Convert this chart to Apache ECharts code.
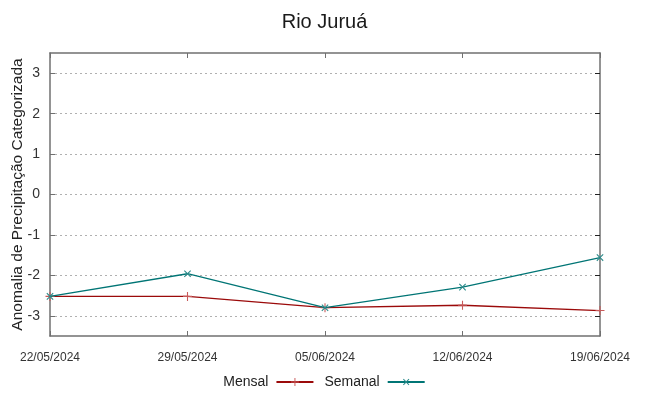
<!DOCTYPE html>
<html>
<head>
<meta charset="utf-8">
<script src="https://cdn.jsdelivr.net/npm/echarts@6/dist/echarts.min.js"></script>
<style>html,body{margin:0;padding:0;background:#fff}#c{width:649px;height:396px}</style>
</head>
<body>
<div id="c"></div>
<script>
const categories = ['22/05/2024', '29/05/2024', '05/06/2024', '12/06/2024', '19/06/2024'];
const mensal = [-2.52, -2.52, -2.80, -2.74, -2.87];
const semanal = [-2.52, -1.96, -2.80, -2.29, -1.56];
const yTicks = [-3, -2, -1, 0, 1, 2, 3];

const plusPath = 'path://M4.4,0H5.6V4.4H10V5.6H5.6V10H4.4V5.6H0V4.4H4.4Z';
const font = 'Liberation Sans, Arial, sans-serif';
const axisGray = '#707070';

const chart = echarts.init(document.getElementById('c'), null, {renderer: 'canvas'});
chart.setOption({
  animation: false,
  backgroundColor: '#fff',
  title: {
    text: 'Rio Juruá', left: 'center', top: 7,
    textStyle: {fontFamily: font, fontSize: 20, fontWeight: 'normal', color: '#1a1a1a'}
  },
  legend: {
    bottom: 2, left: 'center', align: 'right', itemGap: 10,
    itemWidth: 37, itemHeight: 10,
    textStyle: {fontFamily: font, fontSize: 14, color: '#222', padding: [0, 3, 0, 0]},
    data: ['Mensal', 'Semanal']
  },
  grid: {left: 50, right: 49, top: 53, bottom: 60, containLabel: false, outerBoundsMode: 'none'},
  xAxis: [{
    type: 'category', data: categories, boundaryGap: false,
    axisLine: {onZero: false, lineStyle: {color: axisGray, width: 1.5}},
    axisTick: {inside: true, length: 5, lineStyle: {color: axisGray}},
    axisLabel: {fontFamily: font, fontSize: 12, color: '#333', margin: 16, interval: 0},
    splitLine: {show: false}
  }, {
    type: 'category', data: categories, boundaryGap: false, position: 'top',
    axisLine: {onZero: false, lineStyle: {color: axisGray, width: 1.5}},
    axisTick: {inside: true, length: 5, lineStyle: {color: axisGray}},
    axisLabel: {show: false}, splitLine: {show: false}
  }],
  yAxis: [{
    type: 'value', min: -3.5, max: 3.5, interval: 1,
    name: 'Anomalia de Precipitação Categorizada', nameLocation: 'middle', nameGap: 24,
    nameMoveOverlap: false,
    nameTextStyle: {fontFamily: font, fontSize: 15.5, color: '#222'},
    axisLine: {show: true, onZero: false, lineStyle: {color: axisGray, width: 1.5}},
    axisTick: {show: true, inside: true, length: 5, lineStyle: {color: axisGray},
      customValues: yTicks},
    axisLabel: {fontFamily: font, fontSize: 14, color: '#333', margin: 10, customValues: yTicks},
    splitLine: {show: true, lineStyle: {color: '#b0b0b0', type: [2, 3], width: 1}}
  }, {
    type: 'value', min: -3.5, max: 3.5, interval: 1, position: 'right',
    axisLine: {show: true, onZero: false, lineStyle: {color: axisGray, width: 1.5}},
    axisTick: {show: true, inside: true, length: 5, lineStyle: {color: '#222'}, customValues: yTicks},
    axisLabel: {show: false}, splitLine: {show: false}
  }],
  series: [{
    name: 'Mensal', type: 'line', data: mensal,
    symbol: plusPath, symbolSize: 9, showSymbol: true,
    lineStyle: {color: '#9b0a0a', width: 1.3},
    itemStyle: {color: '#c85a5a'},
    z: 2
  }, {
    name: 'Semanal', type: 'line', data: semanal,
    symbol: plusPath, symbolSize: 9, symbolRotate: 45, showSymbol: true,
    lineStyle: {color: '#007575', width: 1.3},
    itemStyle: {color: '#2a8a8a'},
    z: 3
  }]
});
</script>
</body>
</html>
